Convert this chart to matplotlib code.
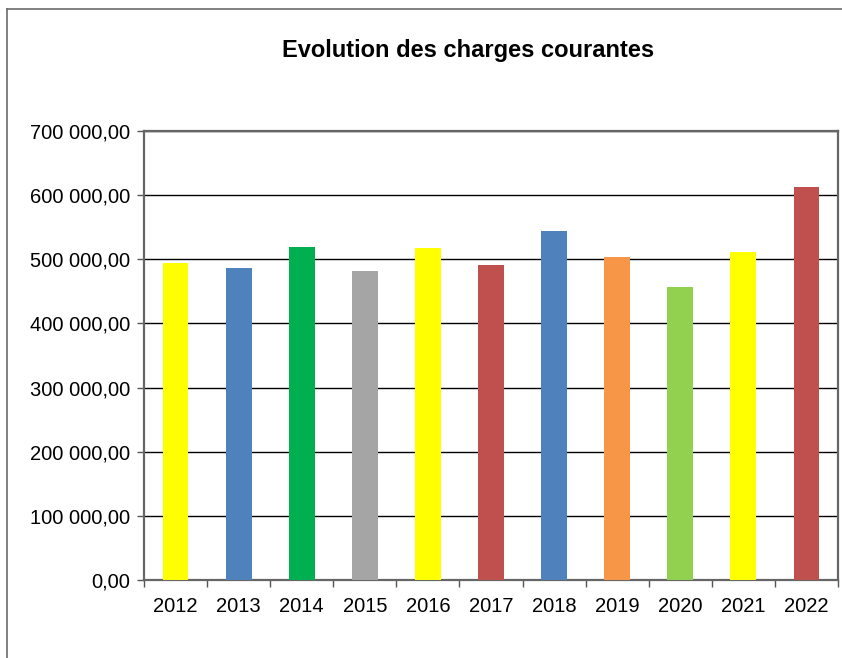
import matplotlib.pyplot as plt
from matplotlib.ticker import FuncFormatter, MultipleLocator
from matplotlib.lines import Line2D

years = ['2012', '2013', '2014', '2015', '2016', '2017', '2018', '2019', '2020', '2021', '2022']
charges = [493700, 486400, 519200, 481700, 518100, 491100, 544200, 503600, 456700, 511400, 613400]
bar_colors = ['#FFFF00', '#4F81BD', '#00B050', '#A5A5A5', '#FFFF00', '#C0504D',
              '#4F81BD', '#F79646', '#92D050', '#FFFF00', '#C0504D']
title = 'Evolution des charges courantes'

plt.rcParams['font.family'] = ['Liberation Sans', 'DejaVu Sans']


def fmt(v, pos):
    s = '{:,.2f}'.format(v)
    return s.replace(',', ' ').replace('.', ',')


fig = plt.figure(figsize=(8.42, 6.58), dpi=100)
ax = fig.add_axes([144 / 842, 78 / 658, 694 / 842, 449 / 658])

# outer chart frame: only left and top edges are visible in the picture
fx = 7 / 842
fy = 1 - 9 / 658
fig.lines.append(Line2D([fx, fx], [0, fy], transform=fig.transFigure,
                        color='#6b6b6b', linewidth=1.2))
fig.lines.append(Line2D([fx, 1], [fy, fy], transform=fig.transFigure,
                        color='#6b6b6b', linewidth=1.2))

x = range(len(years))
ax.bar(x, charges, width=0.41, color=bar_colors, zorder=3)

ax.set_xlim(-0.5, len(years) - 0.5)
ax.set_ylim(0, 700000)
ax.yaxis.set_major_locator(MultipleLocator(100000))
ax.yaxis.set_major_formatter(FuncFormatter(fmt))
ax.yaxis.grid(True, color='black', linewidth=1.0, zorder=1)

ax.set_xticks(list(x))
ax.set_xticklabels(years)
ax.set_xticks([i - 0.5 for i in range(len(years) + 1)], minor=True)
ax.tick_params(axis='x', which='major', length=0, pad=12, labelsize=14.5)
ax.tick_params(axis='x', which='minor', length=5, width=1, color='#555555', direction='out')
ax.tick_params(axis='y', length=5, width=1, color='#555555', labelsize=14.5, pad=5)

for side in ['left', 'right', 'top', 'bottom']:
    ax.spines[side].set_color('#666666')
    ax.spines[side].set_linewidth(1.6)

fig.text(468 / 842, 1 - 50 / 658, title, ha='center', va='center',
         fontsize=17, fontweight='bold')

fig.savefig('out.png', dpi=100)
